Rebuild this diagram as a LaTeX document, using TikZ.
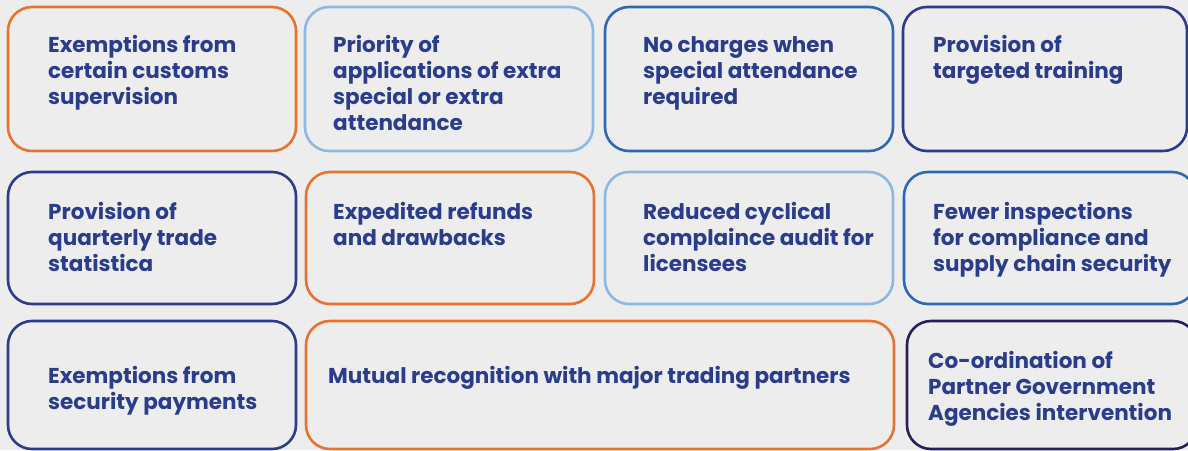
\documentclass[tikz,border=0pt]{standalone}
\usepackage{fontspec}
\setmainfont{Poppins}
\usetikzlibrary{positioning}
\definecolor{aeorange}{HTML}{E87330}
\definecolor{aelight}{HTML}{8DB8E4}
\definecolor{aemid}{HTML}{2F68B2}
\definecolor{aenavy}{HTML}{2A3C8B}
\definecolor{aedark}{HTML}{22215A}
\definecolor{aetext}{HTML}{2A3C8C}
\definecolor{aebg}{HTML}{EDEDED}

\begin{document}
\begin{tikzpicture}[x=1pt,y=-1pt,
    card/.style={draw=#1,rounded corners=24pt,line width=2.6pt,inner sep=0pt},
    lbl/.style={anchor=base west,inner sep=0pt,align=left,text=aetext,
        font=\fontsize{21.5pt}{26pt}\selectfont\bfseries}]
    \useasboundingbox (0,0) rectangle (1188,450);
    \fill[aebg] (0,0) rectangle (1188,450);
    \clip (0,0) rectangle (1188,450);
    % first row
    \node[card=aeorange, minimum width=288pt, minimum height=144pt] (b11) at (152,79) {};
    \node[card=aelight, minimum width=288pt, minimum height=144pt] (b12) at (449,79) {};
    \node[card=aemid, minimum width=288pt, minimum height=144pt] (b13) at (749,79) {};
    \node[card=aenavy, minimum width=284pt, minimum height=144pt] (b14) at (1045,79) {};
    % second row
    \node[card=aenavy, minimum width=288pt, minimum height=132pt] (b21) at (152,238) {};
    \node[card=aeorange, minimum width=288pt, minimum height=132pt] (b22) at (450,238) {};
    \node[card=aelight, minimum width=288pt, minimum height=132pt] (b23) at (749,238) {};
    \node[card=aemid, minimum width=292pt, minimum height=132pt] (b24) at (1050,238) {};
    % third row
    \node[card=aenavy, minimum width=288pt, minimum height=128pt] (b31) at (152,385) {};
    \node[card=aeorange, minimum width=588pt, minimum height=128pt] (b32) at (600,385) {};
    \node[card=aedark, minimum width=290pt, minimum height=128pt] (b33) at (1052,385) {};

    % labels (anchored at the baseline of the last line)
    \node[lbl] (t11) at (48,104) {Exemptions from\\certain customs\\supervision};
    \node[lbl] (t12) at (333,130) {Priority of\\applications of extra\\special or extra\\attendance};
    \node[lbl] (t13) at (643,104) {No charges when\\special attendance\\required};
    \node[lbl] (t14) at (933,78) {Provision of\\targeted training};
    \node[lbl] (t21) at (48,271) {Provision of\\quarterly trade\\statistica};
    \node[lbl] (t22) at (333,245) {Expedited refunds\\and drawbacks};
    \node[lbl] (t23) at (643,271) {Reduced cyclical\\complaince audit for\\licensees};
    \node[lbl] (t24) at (933,271) {Fewer inspections\\for compliance and\\supply chain security};
    \node[lbl] (t31) at (48,409) {Exemptions from\\security payments};
    \node[lbl] (t32) at (328,383) {Mutual recognition with major trading partners};
    \node[lbl] (t33) at (928,420) {Co-ordination of\\Partner Government\\Agencies intervention};
\end{tikzpicture}
\end{document}
